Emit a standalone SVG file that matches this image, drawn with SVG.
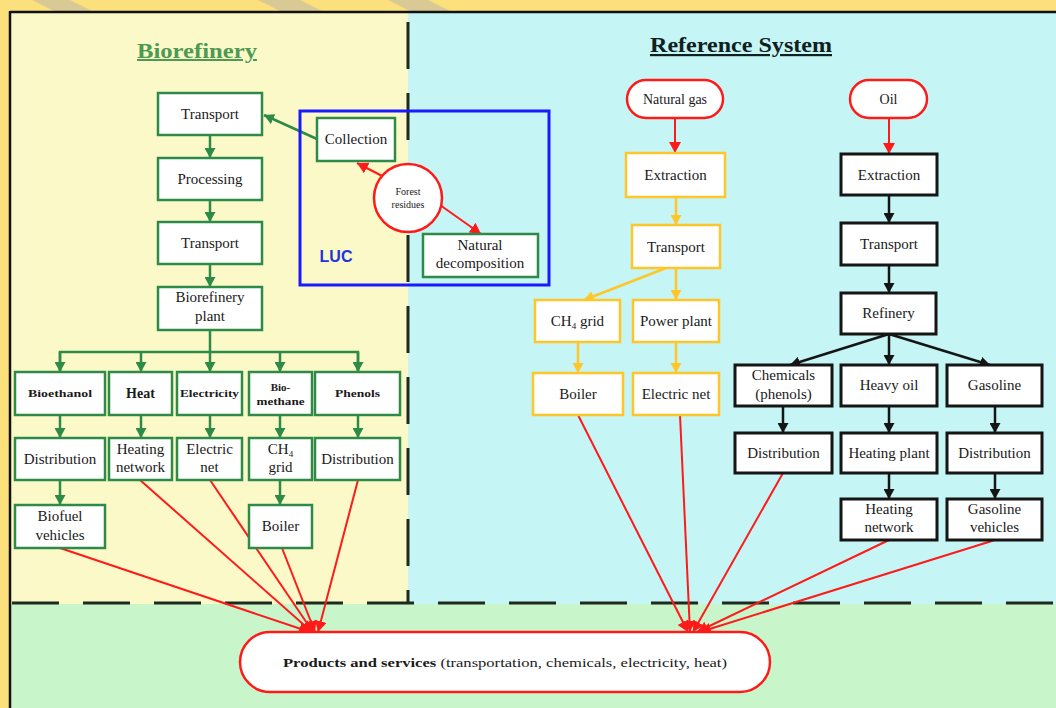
<svg xmlns="http://www.w3.org/2000/svg" width="1056" height="708" viewBox="0 0 1056 708">
<style>
text{font-family:"Liberation Serif","DejaVu Serif",serif;fill:#1a1a1a;text-anchor:middle}
.t{font-size:15px}
.s{font-size:11px;font-weight:bold}
.g{fill:#fff;stroke:#2e8b47;stroke-width:2.5}
.y{fill:#fff;stroke:#ffc62a;stroke-width:2.5}
.k{fill:#fff;stroke:#151515;stroke-width:3}
.r{fill:#fff;stroke:#ff1a1a;stroke-width:2.5}
.gl{stroke:#2e8b47;stroke-width:2.5;fill:none}
.yl{stroke:#ffc62a;stroke-width:2.5;fill:none}
.kl{stroke:#151515;stroke-width:2.5;fill:none}
.rl{stroke:#ff1a1a;stroke-width:2;fill:none}
.dash{stroke:#1e2a1e;stroke-width:3;stroke-dasharray:47 24;fill:none}
</style>
<defs>
<marker id="ag" markerUnits="userSpaceOnUse" markerWidth="11" markerHeight="11" refX="10" refY="5.5" orient="auto"><path d="M0,0 L10,5.5 L0,11 z" fill="#2e8b47"/></marker>
<marker id="ay" markerUnits="userSpaceOnUse" markerWidth="11" markerHeight="11" refX="10" refY="5.5" orient="auto"><path d="M0,0 L10,5.5 L0,11 z" fill="#ffc62a"/></marker>
<marker id="ak" markerUnits="userSpaceOnUse" markerWidth="11" markerHeight="11" refX="10" refY="5.5" orient="auto"><path d="M0,0 L10,5.5 L0,11 z" fill="#151515"/></marker>
<marker id="ar" markerUnits="userSpaceOnUse" markerWidth="12" markerHeight="12" refX="11" refY="6" orient="auto"><path d="M0,0 L11,6 L0,12 z" fill="#ff1a1a"/></marker>
</defs>

<!-- background -->
<rect x="0" y="0" width="1056" height="708" fill="#fbe07b"/>
<polygon points="32,0 70,0 92,11 54,11" fill="#d9c995"/>
<polygon points="258,0 300,0 322,11 280,11" fill="#d9c995"/>
<polygon points="388,0 428,0 450,11 410,11" fill="#d9c995"/>
<rect x="11" y="12" width="397" height="592" fill="#fcf9c8"/>
<rect x="408" y="12" width="648" height="592" fill="#c6f5f5"/>
<rect x="11" y="604" width="1045" height="104" fill="#c9f5cb"/>
<line x1="10" y1="12" x2="1056" y2="12" stroke="#111" stroke-width="2.5"/>
<line x1="10" y1="11" x2="10" y2="708" stroke="#111" stroke-width="2.5"/>
<line class="dash" x1="408" y1="14" x2="408" y2="603" stroke-dashoffset="63"/>
<line class="dash" x1="12" y1="603" x2="1056" y2="603"/>

<text x="197" y="58" style="font-size:20px;font-weight:bold;fill:#4d9a55;text-decoration:underline" textLength="120" lengthAdjust="spacingAndGlyphs">Biorefinery</text>
<text x="741" y="52" style="font-size:22px;font-weight:bold;fill:#10201e;text-decoration:underline" textLength="182" lengthAdjust="spacingAndGlyphs">Reference System</text>

<!-- connectors -->
<g id="connectors">
  <line class="gl" x1="210" y1="135" x2="210" y2="158" marker-end="url(#ag)"/>
  <line class="gl" x1="210" y1="200" x2="210" y2="222" marker-end="url(#ag)"/>
  <line class="gl" x1="210" y1="264" x2="210" y2="287" marker-end="url(#ag)"/>
  <line class="gl" x1="317" y1="139" x2="264" y2="115" marker-end="url(#ag)"/>
  <line class="gl" x1="210" y1="330" x2="210" y2="372" marker-end="url(#ag)"/>
  <polyline class="gl" points="60,372 60,352 358,352 358,372"/>
  <line class="gl" x1="60" y1="352" x2="60" y2="372" marker-end="url(#ag)"/>
  <line class="gl" x1="141" y1="352" x2="141" y2="372" marker-end="url(#ag)"/>
  <line class="gl" x1="280" y1="352" x2="280" y2="372" marker-end="url(#ag)"/>
  <line class="gl" x1="358" y1="352" x2="358" y2="372" marker-end="url(#ag)"/>
  <line class="gl" x1="60" y1="415" x2="60" y2="438" marker-end="url(#ag)"/>
  <line class="gl" x1="141" y1="415" x2="141" y2="438" marker-end="url(#ag)"/>
  <line class="gl" x1="210" y1="415" x2="210" y2="438" marker-end="url(#ag)"/>
  <line class="gl" x1="280" y1="415" x2="280" y2="438" marker-end="url(#ag)"/>
  <line class="gl" x1="358" y1="415" x2="358" y2="438" marker-end="url(#ag)"/>
  <line class="gl" x1="60" y1="480" x2="60" y2="505" marker-end="url(#ag)"/>
  <line class="gl" x1="280" y1="480" x2="280" y2="505" marker-end="url(#ag)"/>

  <line class="rl" stroke-width="2.5" x1="386" y1="178" x2="357" y2="163" marker-end="url(#ar)"/>
  <line class="rl" stroke-width="2.5" x1="440" y1="205" x2="481" y2="234" marker-end="url(#ar)"/>

  <line class="rl" stroke-width="2.5" x1="675" y1="118" x2="675" y2="153" marker-end="url(#ar)"/>
  <line class="rl" stroke-width="2.5" x1="889" y1="118" x2="889" y2="154" marker-end="url(#ar)"/>

  <line class="yl" x1="676" y1="197" x2="676" y2="225" marker-end="url(#ay)"/>
  <line class="yl" x1="666" y1="268" x2="584" y2="300" marker-end="url(#ay)"/>
  <line class="yl" x1="676" y1="268" x2="676" y2="300" marker-end="url(#ay)"/>
  <line class="yl" x1="578" y1="342" x2="578" y2="373" marker-end="url(#ay)"/>
  <line class="yl" x1="676" y1="342" x2="676" y2="373" marker-end="url(#ay)"/>

  <line class="kl" x1="889" y1="195" x2="889" y2="223" marker-end="url(#ak)"/>
  <line class="kl" x1="889" y1="265" x2="889" y2="293" marker-end="url(#ak)"/>
  <line class="kl" x1="889" y1="334" x2="790" y2="365" marker-end="url(#ak)"/>
  <line class="kl" x1="889" y1="334" x2="889" y2="365" marker-end="url(#ak)"/>
  <line class="kl" x1="889" y1="334" x2="990" y2="365" marker-end="url(#ak)"/>
  <line class="kl" x1="783" y1="406" x2="783" y2="433" marker-end="url(#ak)"/>
  <line class="kl" x1="889" y1="406" x2="889" y2="433" marker-end="url(#ak)"/>
  <line class="kl" x1="995" y1="406" x2="995" y2="433" marker-end="url(#ak)"/>
  <line class="kl" x1="889" y1="473" x2="889" y2="499" marker-end="url(#ak)"/>
  <line class="kl" x1="995" y1="473" x2="995" y2="499" marker-end="url(#ak)"/>

  <line class="rl" x1="60" y1="548" x2="310" y2="632" marker-end="url(#ar)"/>
  <line class="rl" x1="140" y1="480" x2="312" y2="632" marker-end="url(#ar)"/>
  <line class="rl" x1="210" y1="480" x2="313" y2="632" marker-end="url(#ar)"/>
  <line class="rl" x1="282" y1="548" x2="315" y2="632" marker-end="url(#ar)"/>
  <line class="rl" x1="358" y1="480" x2="318" y2="632" marker-end="url(#ar)"/>
  <line class="rl" x1="578" y1="415" x2="688" y2="632" marker-end="url(#ar)"/>
  <line class="rl" x1="680" y1="415" x2="690" y2="632" marker-end="url(#ar)"/>
  <line class="rl" x1="783" y1="473" x2="693" y2="632" marker-end="url(#ar)"/>
  <line class="rl" x1="889" y1="540" x2="697" y2="632" marker-end="url(#ar)"/>
  <line class="rl" x1="995" y1="540" x2="700" y2="632" marker-end="url(#ar)"/>
</g>

<!-- LUC -->
<g id="luc">
  <rect x="300" y="111" width="249" height="174" fill="none" stroke="#1a1aff" stroke-width="3"/>
  <text x="336" y="262" style="font-family:'Liberation Sans',Arial,sans-serif;font-size:16px;font-weight:bold;fill:#2233dd">LUC</text>
</g>
<g id="collection"><rect class="g" x="317" y="118" width="78" height="43"/><text class="t" x="356" y="144">Collection</text></g>
<g id="forest"><circle class="r" cx="408" cy="198" r="34"/><text x="408" y="195" style="font-size:10px">Forest</text><text x="408" y="208" style="font-size:10px">residues</text></g>
<g id="natural"><rect class="g" x="423" y="234" width="115" height="43"/><text class="t" x="480" y="250">Natural</text><text class="t" x="480" y="268">decomposition</text></g>

<!-- Biorefinery chain -->
<g id="b-transport1"><rect class="g" x="158" y="93" width="104" height="42"/><text class="t" x="210" y="119">Transport</text></g>
<g id="b-processing"><rect class="g" x="158" y="158" width="104" height="42"/><text class="t" x="210" y="184">Processing</text></g>
<g id="b-transport2"><rect class="g" x="158" y="222" width="104" height="42"/><text class="t" x="210" y="248">Transport</text></g>
<g id="b-plant"><rect class="g" x="158" y="287" width="104" height="43"/><text class="t" x="210" y="302">Biorefinery</text><text class="t" x="210" y="321">plant</text></g>

<g id="b-bioethanol"><rect class="g" x="15" y="372" width="90" height="43"/><text class="s" x="60" y="397" textLength="64" lengthAdjust="spacingAndGlyphs">Bioethanol</text></g>
<g id="b-heat"><rect class="g" x="109" y="372" width="63" height="43"/><text x="140.5" y="398" style="font-size:14px;font-weight:bold">Heat</text></g>
<g id="b-electricity"><rect class="g" x="177" y="372" width="65" height="43"/><text class="s" x="209.5" y="397" textLength="59" lengthAdjust="spacingAndGlyphs">Electricity</text></g>
<g id="b-biomethane"><rect class="g" x="249" y="372" width="63" height="43"/><text class="s" x="280.5" y="391">Bio-</text><text class="s" x="280.5" y="405" textLength="48" lengthAdjust="spacingAndGlyphs">methane</text></g>
<g id="b-phenols"><rect class="g" x="315" y="372" width="85" height="43"/><text class="s" x="357.5" y="397" textLength="45" lengthAdjust="spacingAndGlyphs">Phenols</text></g>

<g id="b-distribution1"><rect class="g" x="15" y="438" width="90" height="42"/><text class="t" x="60" y="464">Distribution</text></g>
<g id="b-heatingnet"><rect class="g" x="109" y="438" width="63" height="42"/><text class="t" x="140.5" y="454">Heating</text><text class="t" x="140.5" y="472">network</text></g>
<g id="b-electricnet"><rect class="g" x="177" y="438" width="65" height="42"/><text class="t" x="209.5" y="454">Electric</text><text class="t" x="209.5" y="472">net</text></g>
<g id="b-ch4grid"><rect class="g" x="249" y="438" width="63" height="42"/><text class="t" x="280.5" y="454">CH<tspan style="font-size:9px" dy="3">4</tspan></text><text class="t" x="280.5" y="472">grid</text></g>
<g id="b-distribution2"><rect class="g" x="315" y="438" width="85" height="42"/><text class="t" x="357.5" y="464">Distribution</text></g>

<g id="b-biofuel"><rect class="g" x="15" y="505" width="90" height="43"/><text class="t" x="60" y="521">Biofuel</text><text class="t" x="60" y="540">vehicles</text></g>
<g id="b-boiler"><rect class="g" x="249" y="505" width="63" height="43"/><text class="t" x="280.5" y="531">Boiler</text></g>

<!-- Reference: natural gas -->
<g id="r-natgas"><rect class="r" x="627" y="80" width="96" height="38" rx="19"/><text x="675" y="104" style="font-size:14px">Natural gas</text></g>
<g id="r-ng-extraction"><rect class="y" x="626" y="153" width="99" height="44"/><text class="t" x="675.5" y="180">Extraction</text></g>
<g id="r-ng-transport"><rect class="y" x="632" y="225" width="88" height="43"/><text class="t" x="676" y="252">Transport</text></g>
<g id="r-ch4grid"><rect class="y" x="535" y="300" width="85" height="42"/><text class="t" x="577.5" y="326">CH<tspan style="font-size:9px" dy="3">4</tspan><tspan dy="-3"> grid</tspan></text></g>
<g id="r-powerplant"><rect class="y" x="633" y="300" width="86" height="42"/><text class="t" x="676" y="326">Power plant</text></g>
<g id="r-boiler"><rect class="y" x="533" y="373" width="90" height="42"/><text class="t" x="578" y="399">Boiler</text></g>
<g id="r-electricnet"><rect class="y" x="633" y="373" width="86" height="42"/><text class="t" x="676" y="399">Electric net</text></g>

<!-- Reference: oil -->
<g id="r-oil"><rect class="r" x="850" y="80" width="77" height="38" rx="19"/><text x="888.5" y="104" style="font-size:14px">Oil</text></g>
<g id="r-oil-extraction"><rect class="k" x="841" y="154" width="96" height="41"/><text class="t" x="889" y="180">Extraction</text></g>
<g id="r-oil-transport"><rect class="k" x="841" y="223" width="96" height="42"/><text class="t" x="889" y="249">Transport</text></g>
<g id="r-refinery"><rect class="k" x="841" y="293" width="95" height="41"/><text class="t" x="888.5" y="318">Refinery</text></g>
<g id="r-chemicals"><rect class="k" x="735" y="365" width="97" height="41"/><text class="t" x="783.5" y="380">Chemicals</text><text class="t" x="783.5" y="399">(phenols)</text></g>
<g id="r-heavyoil"><rect class="k" x="841" y="365" width="96" height="41"/><text class="t" x="889" y="390">Heavy oil</text></g>
<g id="r-gasoline"><rect class="k" x="947" y="365" width="95" height="41"/><text class="t" x="994.5" y="390">Gasoline</text></g>
<g id="r-distribution1"><rect class="k" x="735" y="433" width="97" height="40"/><text class="t" x="783.5" y="458">Distribution</text></g>
<g id="r-heatingplant"><rect class="k" x="841" y="433" width="96" height="40"/><text class="t" x="889" y="458">Heating plant</text></g>
<g id="r-distribution2"><rect class="k" x="947" y="433" width="95" height="40"/><text class="t" x="994.5" y="458">Distribution</text></g>
<g id="r-heatingnet"><rect class="k" x="841" y="499" width="96" height="41"/><text class="t" x="889" y="514">Heating</text><text class="t" x="889" y="532">network</text></g>
<g id="r-gasvehicles"><rect class="k" x="947" y="499" width="95" height="41"/><text class="t" x="994.5" y="514">Gasoline</text><text class="t" x="994.5" y="532">vehicles</text></g>

<!-- Products -->
<g id="products"><rect class="r" x="240" y="632" width="530" height="60" rx="30"/><text x="505" y="667" style="font-size:13px" textLength="444" lengthAdjust="spacingAndGlyphs"><tspan style="font-weight:bold">Products and services</tspan> (transportation, chemicals, electricity, heat)</text></g>
</svg>
